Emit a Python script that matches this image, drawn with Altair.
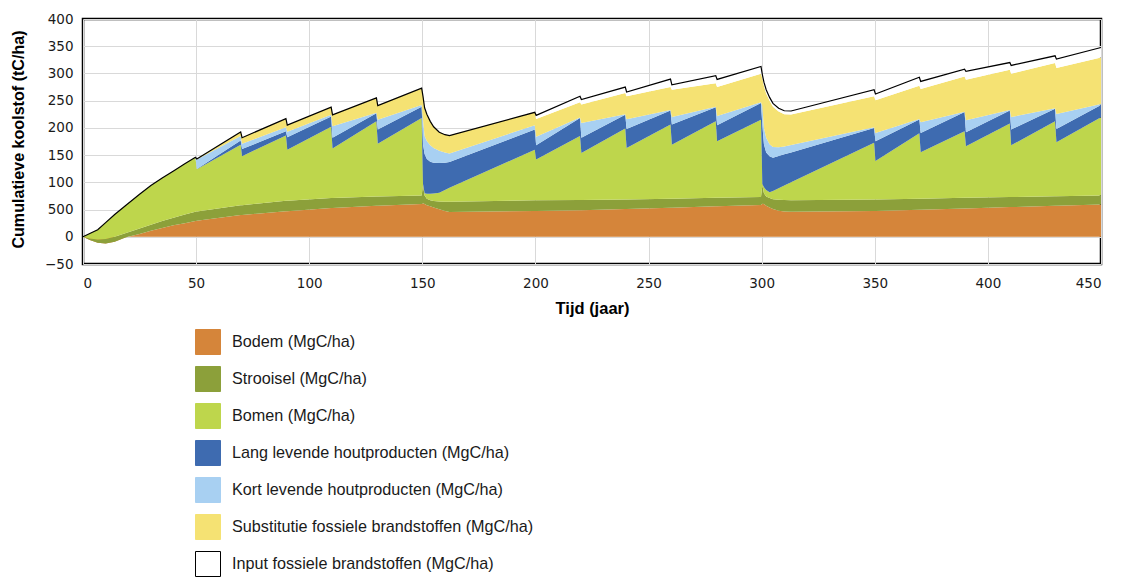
import altair as alt
import pandas as pd

# Time axis (years); pairs like 69.7 / 70.3 mark the values just before / after a harvest
years = [0, 3, 6.5, 10, 14, 19, 25, 30, 35, 40, 45, 49.7,
         50.3, 69.7, 70.3, 89.7, 90.3, 109.7, 110.3, 129.7, 130.3, 149.7,
         150.3, 151, 152, 153.5, 155, 157.5, 160, 162, 199.7,
         200.3, 219.7, 220.3, 239.7, 240.3, 259.7, 260.3, 279.7, 280.3, 299.7,
         300.3, 301, 302, 303.5, 305, 307.5, 310, 313, 349.7,
         350.3, 369.7, 370.3, 389.7, 390.3, 409.7, 410.3, 429.7, 430.3, 450]

# Cumulative (stacked) top of each layer, tC/ha
bodem = [0, -6, -11, -12.5, -9, -1, 5, 11, 16, 21, 25, 29,
         29.5, 40, 40, 47, 47, 53, 53, 57, 57, 60,
         61.5, 60, 58, 56, 54, 50.5, 47.5, 45.5, 47.5,
         47.5, 48.5, 48.5, 51, 51, 53.5, 53.5, 56, 56, 58.5,
         60.5, 60, 57, 54, 51, 48, 46.5, 46, 47.5,
         47.5, 49.5, 49.5, 52, 52, 54.5, 54.5, 57, 57, 59.5]
strooisel = [0, -3, -5, -4, 0, 7, 15, 22, 29, 35, 41, 46,
             46.5, 58, 58, 66, 66, 71, 71, 74, 74, 76,
             94, 76, 70, 67, 65.5, 65, 64.5, 64.5, 67,
             67, 67.5, 67.5, 68.5, 68.5, 70, 70, 71.5, 71.5, 73,
             94, 80, 74, 71, 69, 68, 67.5, 67, 68.5,
             68.5, 70, 70, 71.5, 71.5, 73, 73, 74.5, 74.5, 76]
bomen = [0, 6, 13, 26, 41, 58, 78, 94, 108, 121, 134, 146,
         124, 169, 148, 186, 160, 202, 162, 212, 171, 218,
         97, 80, 79, 79, 79.5, 81, 86, 90, 160,
         142, 185, 154, 199, 163, 206, 169, 212, 175.5, 215,
         97, 91, 86, 82, 84, 89, 94, 100, 172.5,
         139, 190, 155.4, 194, 166.4, 208, 168, 212, 173.7, 219.4]
lang = [0, 6, 13, 26, 41, 58, 78, 94, 108, 121, 134, 146,
        124.5, 177, 161, 194, 183, 221, 182, 227, 197, 239,
        170, 152, 143, 138, 136, 135.5, 136, 137.5, 197,
        168, 218, 182, 224, 198, 232, 206, 238, 205, 245.7,
        205, 170, 155, 148, 145, 148.5, 151.5, 155, 200,
        175.6, 215.3, 190.8, 229, 192, 232, 197, 235.3, 198, 242]
kort = [0, 6, 13, 26, 41, 58, 78, 94, 108, 121, 134, 146,
        142, 185, 171, 201, 193, 224, 203, 228, 215, 242,
        215, 185, 176, 168, 163, 158, 155, 153, 205,
        183.5, 219, 209, 225, 216, 233, 220, 239, 222, 247,
        240, 200, 182, 170, 165, 164.5, 166, 168.5, 201,
        190.8, 216.5, 210.4, 229.5, 214, 233, 220, 236, 225.6, 244]
substitutie = [0, 6, 13, 26, 41, 58, 78, 94, 108, 121, 134, 146,
               143, 192.6, 182, 217, 205, 238, 224, 255, 241, 273,
               258, 237, 225, 212, 202, 192, 187.5, 186, 228.6,
               216.5, 247, 243, 264, 258, 275, 270, 282, 275, 299.5,
               291, 277, 263, 250, 239, 230, 225, 224.5, 258,
               250.7, 277.5, 271.4, 294.5, 288.5, 307, 299.5, 319, 310, 329.3]
input_fossiel = [0, 6, 13, 26, 41, 58, 78, 94, 108, 121, 134, 146,
                 143, 192.6, 182, 217, 205, 238, 224, 255, 241, 273,
                 258, 237, 225, 212, 202, 192, 187.5, 186, 228.6,
                 223, 258, 252, 275, 266, 289.7, 279, 296, 289, 312.8,
                 298, 284, 270, 256, 245, 236, 231.5, 231, 270,
                 262.3, 293, 285.4, 308, 303.7, 320, 314.7, 332.4, 326.3, 347.6]

names = ["Bodem (MgC/ha)", "Strooisel (MgC/ha)", "Bomen (MgC/ha)",
         "Lang levende houtproducten (MgC/ha)", "Kort levende houtproducten (MgC/ha)",
         "Substitutie fossiele brandstoffen (MgC/ha)", "Input fossiele brandstoffen (MgC/ha)"]
fills = ["#D5853A", "#8CA03A", "#BED64C", "#3E6BB0", "#A8D0F2", "#F5E273", "#FFFFFF"]
strokes = ["#D5853A", "#8CA03A", "#BED64C", "#3E6BB0", "#A8D0F2", "#F5E273", "#000000"]

tops = [bodem, strooisel, bomen, lang, kort, substitutie, input_fossiel]
rows = []
for k, name in enumerate(names):
    for i, t in enumerate(years):
        lo = 0 if k == 0 else tops[k - 1][i]
        rows.append({"t": t, "lo": lo, "hi": tops[k][i], "laag": name})
df = pd.DataFrame(rows)

F = "'Liberation Sans', Arial, sans-serif"
TICKF = "'DejaVu Sans', sans-serif"

leg = alt.Legend(title=None, orient="none", legendX=112, legendY=310, direction="vertical",
                 symbolType="square", symbolSize=625, symbolStrokeWidth=1, symbolOpacity=1,
                 labelFont=F, labelFontSize=16.2, labelColor="#1a1a1a", labelLimit=700,
                 labelOffset=11, rowPadding=7, padding=0)

fill_scale = alt.Scale(domain=names, range=fills)
stroke_scale = alt.Scale(domain=names, range=strokes)

x_enc = alt.X("t:Q", scale=alt.Scale(domain=[0, 450], nice=False, zero=False),
              axis=alt.Axis(values=list(range(0, 451, 50)), labelPadding=12,
                            title="Tijd (jaar)", titleY=44, titleBaseline="middle",
                            titleFont=F, titleFontSize=16.5, titleFontWeight="bold"))
y_enc = alt.Y("hi:Q", stack=None, scale=alt.Scale(domain=[-50, 400], nice=False),
              axis=alt.Axis(values=list(range(-50, 401, 50)), labelPadding=10,
                            labelExpr="datum.value == 50 ? '500' : datum.label",
                            title="Cumulatieve koolstof (tC/ha)", titleX=-65, titleY=120,
                            titleAngle=270, titleAlign="center", titleBaseline="middle",
                            titleFont=F, titleFontSize=16.1, titleFontWeight="bold"))

areas = []
for name in names:
    areas.append(
        alt.Chart(df)
        .transform_filter(alt.datum.laag == name)
        .mark_area(opacity=1, interpolate="linear")
        .encode(x=x_enc, y=y_enc, y2="lo:Q",
                fill=alt.Fill("laag:N", scale=fill_scale, legend=leg))
    )

line = (
    alt.Chart(df)
    .transform_filter(alt.datum.laag == names[-1])
    .mark_line(strokeWidth=1.2, interpolate="linear")
    .encode(x=x_enc, y=y_enc, stroke=alt.Stroke("laag:N", scale=stroke_scale, legend=leg))
)

chart = (
    alt.layer(*areas, line)
    .properties(width=1018, height=245,
                autosize=alt.AutoSizeParams(type="none"),
                padding={"left": 75, "top": 11, "right": 13, "bottom": 314})
    .configure_view(stroke="black", strokeWidth=2.5)
    .configure_axis(grid=True, gridColor="#d9d9d9", gridWidth=1, ticks=False, domain=False,
                    labelFont=TICKF, labelFontSize=13.5, labelColor="#1a1a1a",
                    titleColor="#000000")
)

chart.save("out.html", embed_options={"renderer": "svg", "actions": False})
